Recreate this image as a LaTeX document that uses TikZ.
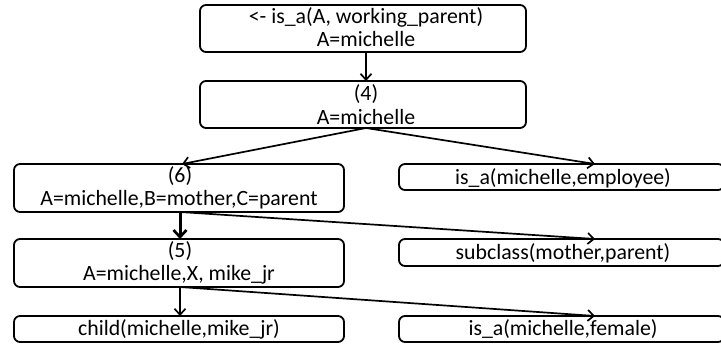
\documentclass[tikz,border=0pt]{standalone}
\usepackage{fontspec}
\setmainfont{Carlito}
\usetikzlibrary{arrows.meta}
\begin{document}
\begin{tikzpicture}[x=1pt,y=-1pt,
  box/.style={draw=black,line width=1.8pt,rounded corners=6pt},
  lbl/.style={font=\fontsize{21.8}{24}\selectfont,inner sep=0pt,anchor=center},
  arr/.style={line width=1.7pt,-{Straight Barb[length=6pt,width=11pt,line width=1.7pt]}},
  ln/.style={line width=1.5pt}]
\useasboundingbox (0,0) rectangle (721,344);
\begin{scope}
\clip (0,0) rectangle (721,344);
% boxes
\draw[box] (200,5) rectangle (526,52);
\draw[box] (200,81) rectangle (526,128);
\draw[box] (14,164) rectangle (344,212);
\draw[box] (14,239) rectangle (344,287);
\draw[box] (14,316) rectangle (344,342);
\draw[box] (399,164) rectangle (724,190);
\draw[box] (399,239) rectangle (724,266);
\draw[box] (399,316) rectangle (724,342);
\end{scope}
% named anchors
\coordinate (b1b) at (366,52);
\coordinate (b2t) at (366,81);
\coordinate (b2b) at (366,128);
\coordinate (b6t) at (182,164);
\coordinate (b6b) at (180,212);
\coordinate (b5t) at (180,239);
\coordinate (b5b) at (180,287);
\coordinate (bct) at (180,316);
\coordinate (r1t) at (595,164);
\coordinate (r2t) at (595,239);
\coordinate (r3t) at (595,316);
% texts
\node[lbl] (t1a) at (366,17) {<- is\_a(A, working\_parent)};
\node[lbl] (t1b) at (366,39) {A=michelle};
\node[lbl] (t2a) at (366,94) {(4)};
\node[lbl] (t2b) at (366,117) {A=michelle};
\node[lbl] (t6a) at (180,176) {(6)};
\node[lbl] (t6b) at (179,200) {A=michelle,B=mother,C=parent};
\node[lbl] (t5a) at (180,251) {(5)};
\node[lbl] (t5b) at (179,275) {A=michelle,X, mike\_jr};
\node[lbl] (tc) at (179,329) {child(michelle,mike\_jr)};
\node[lbl] (r1) at (563,178) {is\_a(michelle,employee)};
\node[lbl] (r2) at (563,253) {subclass(mother,parent)};
\node[lbl] (r3) at (563,329) {is\_a(michelle,female)};
% connectors
\draw[arr] (b1b) -- (b2t);
\draw[arr] (b2b) -- (b6t);
\draw[arr] (b2b) -- (r1t);
\draw[line width=3pt,-{Straight Barb[length=7pt,width=13pt,line width=2.7pt]}] (b6b) -- (b5t);
\draw[arr] (b6b) -- (r2t);
\draw[arr] (b5b) -- (bct);
\draw[arr] (b5b) -- (r3t);
\end{tikzpicture}
\end{document}
